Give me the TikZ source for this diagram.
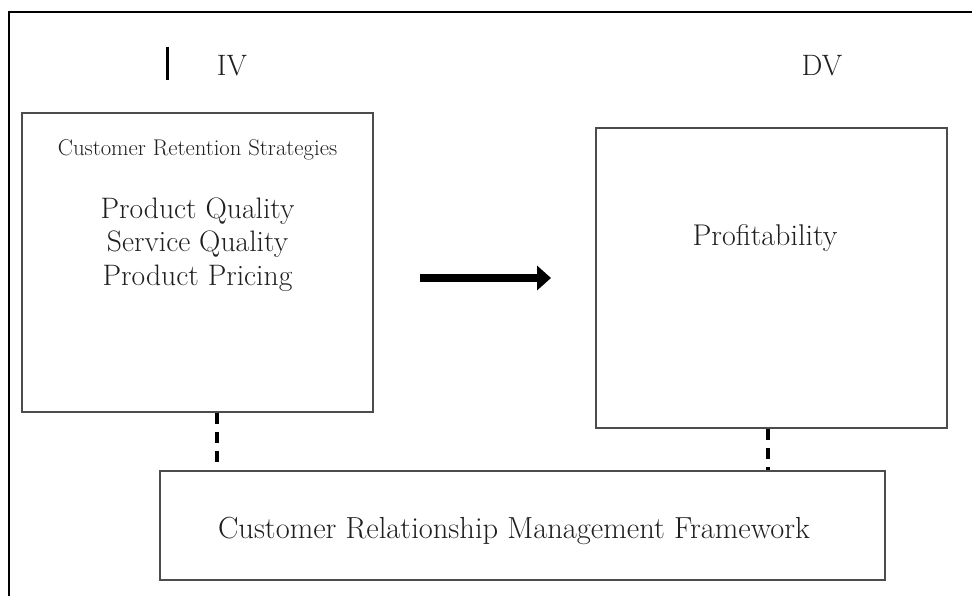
\documentclass[tikz,border=0pt]{standalone}
\usepackage{amsmath}
\usepackage{fontspec}
\usetikzlibrary{arrows.meta}

\begin{document}
\begin{tikzpicture}[x=1pt, y=-1pt,
    box/.style={draw=black!70, line width=2pt, rectangle, inner sep=0pt},
    txt/.style={text=black!88, inner sep=0pt, anchor=base},
    dashlink/.style={draw=black, line width=4.5pt, dash pattern=on 11pt off 8pt},
    bigarrow/.style={line width=8pt, -{Triangle[length=14pt, width=24pt]}}]
    \useasboundingbox (0,0) rectangle (972,596);
    \clip (0,0) rectangle (972,596);
    % outer frame (runs off the page on the right and bottom)
    \draw[line width=2.5pt] (9,12) rectangle (990,615);
    \draw[line width=3pt] (167,47) -- (167,80);
    % headings
    \node[txt, font=\fontsize{29.5}{33}\selectfont] (iv) at (232,76) {IV};
    \node[txt, font=\fontsize{29.5}{33}\selectfont] (dv) at (822,76) {DV};
    % boxes
    \node[box, minimum width=351pt, minimum height=299pt] (ivbox) at (197.5,262.5) {};
    \node[box, minimum width=351pt, minimum height=300pt] (dvbox) at (771.5,278) {};
    \node[box, minimum width=725pt, minimum height=109pt] (crm) at (522.5,525.5) {};
    % box texts (list is anchored on its last baseline)
    \node[txt, font=\fontsize{22.7}{25}\selectfont] (crs) at (197.5,156) {Customer Retention Strategies};
    \node[txt, align=center, font=\fontsize{29.6}{33.5}\selectfont] (ivlist) at (197.5,285)
        {Product Quality\\Service Quality\\Product Pricing};
    \node[txt, font=\fontsize{30}{33}\selectfont] (prof) at (765,246) {Profitability};
    \node[txt, font=\fontsize{30.5}{33}\selectfont] (crmtxt) at (514,538)
        {Customer Relationship Management Framework};
    % links
    \coordinate (arrS) at (420,278);
    \coordinate (arrE) at (551,278);
    \draw[bigarrow] (arrS) -- (arrE);
    \draw[dashlink] ([xshift=196pt]ivbox.south west) -- ([xshift=196pt]ivbox.south west |- crm.north);
    \draw[dashlink] ([xshift=173pt]dvbox.south west) -- ([xshift=173pt]dvbox.south west |- crm.north);
\end{tikzpicture}
\end{document}
